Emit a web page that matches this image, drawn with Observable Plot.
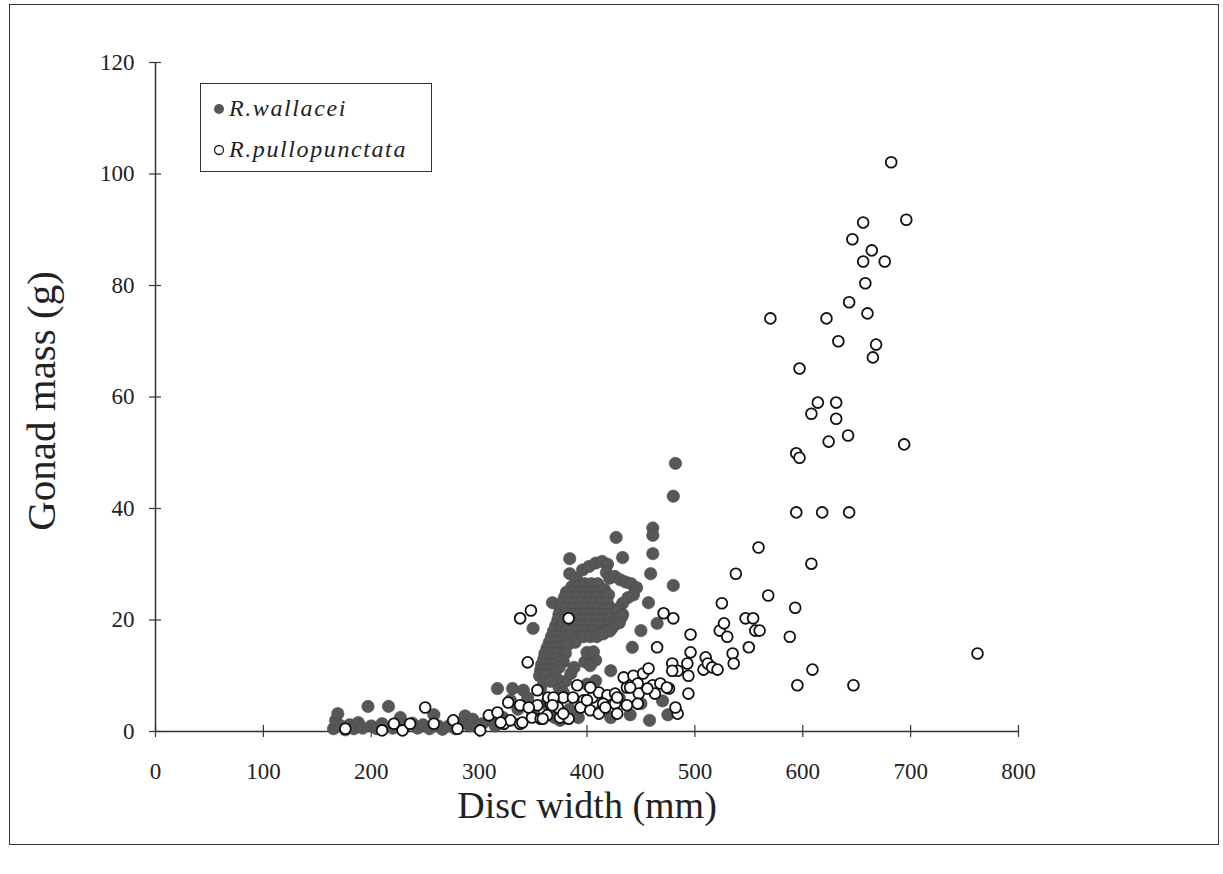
<!DOCTYPE html>
<html>
<head>
<meta charset="utf-8">
<script src="https://cdn.jsdelivr.net/npm/d3@7"></script>
<script src="https://cdn.jsdelivr.net/npm/@observablehq/plot@0.6"></script>
<style>
  html, body { margin: 0; padding: 0; background: #fff; }
  #wrap { position: relative; width: 1223px; height: 874px; overflow: hidden; }
  #frame { position: absolute; left: 9px; top: 4px; width: 1208px; height: 839px; border: 1.8px solid #333; pointer-events: none; }
  #legend { position: absolute; left: 200px; top: 83px; width: 230px; height: 87px; border: 1.3px solid #333; background: #fff;
            font-family: "Liberation Serif", "Times New Roman", serif; font-style: italic; font-size: 24px; color: #222; letter-spacing: 1.6px; }
  #legend .row { position: absolute; left: 12px; display: flex; align-items: center; white-space: nowrap; }
  #legend svg { margin-right: 4px; }
  #chart { position: absolute; left: 0; top: 0; }
</style>
</head>
<body>
<div id="wrap">
  <div id="chart"></div>
  <div id="frame"></div>
  <div id="legend"></div>
</div>
<script>
const xTicks = [0, 100, 200, 300, 400, 500, 600, 700, 800];
const yTicks = [0, 20, 40, 60, 80, 100, 120];
const seriesNames = ["R.wallacei", "R.pullopunctata"];

// R. wallacei (filled)
const wallacei = [
  [165,0.5],[167,2.0],[169,3.2],[172,1.0],[176,0.3],[180,1.2],[184,0.5],[188,1.6],[192,0.6],[197,4.5],
  [200,1.0],[205,0.5],[210,1.4],[216,4.5],[220,0.6],[227,2.5],[232,1.0],[238,1.5],[243,0.6],[248,1.2],
  [254,0.5],[258,3.0],[262,1.0],[266,0.4],[272,1.0],[278,0.5],[284,1.6],[287,2.8],[291,1.0],[294,2.2],
  [298,0.8],[303,1.4],[310,2.0],[315,1.0],[322,2.5],[317,7.7],[331,7.7],[341,7.4],[329,5.6],[336,4.0],
  [345,6.0],[350,3.5],[357,7.7],[362,5.0],[370,2.5],[376,7.5],[380,9.0],[385,10.4],[388,11.5],[375,2.0],
  [384,4.0],[392,2.5],[400,8.5],[408,9.1],[414,4.0],[422,10.9],[422,2.5],[430,6.0],[440,3.0],[450,5.0],
  [458,2.0],[470,5.5],[475,3.0],[374,8.0],[378,7.0],
  [350,18.5],[368,23.1],[384,31.0],[384,28.3],[427,34.8],[433,31.2],[461,31.9],[461,36.5],[461,35.2],
  [459,28.3],[480,26.2],[457,23.1],[465,19.4],[450,18.1],[442,15.1],[482,48.1],[480,42.2],
  [390,27.5],[396,29.0],[402,29.6],[408,30.2],[414,30.5],[419,30.0],[418,28.5],[421,27.5],[426,27.8],
  [431,27.2],[436,26.8],[441,26.5],[446,25.8],[443,24.5],[438,24.0],[433,23.0],
  [386,26.0],[392,26.0],[398,26.5],[404,26.5],[410,26.5],
  [381,25.0],[387,25.0],[393,25.0],[399,25.0],[405,25.0],[411,25.0],[416,25.5],
  [379,24.0],[385,24.0],[391,24.0],[397,24.0],[403,24.0],[409,24.0],[415,24.0],[420,24.5],
  [377,23.0],[383,23.0],[389,23.0],[395,23.0],[401,23.0],[407,23.0],[413,23.0],[419,23.0],
  [375,22.0],[381,22.0],[387,22.0],[393,22.0],[399,22.0],[405,22.0],[411,22.0],[417,22.0],[423,22.0],[429,22.0],
  [374,21.0],[380,21.0],[386,21.0],[392,21.0],[398,21.0],[404,21.0],[410,21.0],[416,21.0],[422,21.0],[428,21.5],[433,21.0],
  [373,20.0],[379,20.0],[385,20.0],[391,20.0],[397,20.0],[403,20.0],[409,20.0],[415,20.0],[421,20.0],[427,20.0],[432,20.5],
  [371,19.0],[377,19.0],[383,19.0],[389,19.0],[395,19.0],[401,19.0],[407,19.0],[413,19.0],[419,19.0],[425,19.0],[430,19.5],
  [369,18.0],[375,18.0],[381,18.0],[387,18.0],[393,18.0],[399,18.0],[405,18.0],[411,17.8],[417,18.0],[423,18.5],
  [367,17.0],[373,17.0],[379,17.0],[385,17.0],[391,16.8],[397,17.0],[403,17.0],[409,17.0],[415,17.5],[421,18.0],
  [365,16.0],[371,16.0],[377,16.0],[383,16.0],[389,16.0],
  [363,15.0],[369,15.0],[375,15.0],[382,15.5],
  [361,14.0],[367,14.0],[373,14.0],[380,14.0],
  [360,13.0],[366,13.0],[371,13.0],[378,12.5],
  [358,12.0],[364,12.0],[369,12.0],[374,11.5],
  [357,11.0],[363,11.0],[368,11.0],[370,10.5],
  [356,10.0],[362,10.0],[372,9.5],[360,9.0],[366,9.0],
  [398,12.5],[403,13.5],[408,12.8],[403,11.8],[400,14.2],[406,14.3]
];

// R. pullopunctata (open)
const pullopunctata = [
  [176,0.5],[210,0.2],[221,1.4],[229,0.2],[236,1.4],[250,4.3],[258,1.4],[276,2.0],[280,0.5],[301,0.2],
  [309,2.9],[317,3.4],[323,1.4],[327,5.2],[329,2.0],[338,4.7],[338,1.4],[320,1.6],[340,1.6],[345,12.4],
  [338,20.3],[348,21.7],[349,2.5],[357,2.3],[363,2.9],[354,4.7],[366,5.0],[373,4.3],[375,2.5],[383,2.3],
  [364,6.1],[378,6.1],[354,7.4],[391,8.3],[387,6.1],[397,5.6],[405,6.1],[394,4.3],[403,3.8],[411,7.0],
  [419,6.5],[415,5.0],[426,6.8],[426,5.0],[428,3.2],[437,7.9],[434,9.7],[443,10.0],[447,8.6],[452,10.4],
  [457,11.3],[448,6.8],[447,5.0],[437,4.7],[461,8.3],[468,8.6],[463,6.8],[476,7.7],[484,3.2],[482,4.3],
  [383,20.3],[471,21.2],[480,20.3],[465,15.1],[479,12.2],[484,10.9],[496,17.4],[496,14.2],[493,12.2],
  [494,10.0],[494,6.8],[479,10.9],[411,3.2],[346,4.3],[359,2.3],[378,3.2],[369,6.1],[368,4.7],[400,5.6],
  [403,7.9],[417,4.3],[428,6.1],[440,7.9],[456,7.7],[474,7.9],
  [508,11.1],[510,13.3],[512,12.2],[516,11.5],[521,11.1],[523,18.1],[525,23.0],[527,19.4],[530,17.0],
  [535,14.0],[536,12.2],[538,28.3],[547,20.3],[550,15.1],[554,20.3],[556,18.1],[559,33.0],[560,18.1],
  [568,24.4],[588,17.0],[593,22.2],[595,8.3],[608,30.1],[609,11.1],[647,8.3],[762,14.0],
  [682,102.1],[696,91.8],[656,91.3],[646,88.3],[664,86.3],[656,84.3],[676,84.3],[658,80.4],[643,77.0],
  [570,74.1],[622,74.1],[660,75.0],[633,70.0],[668,69.4],[665,67.1],[597,65.1],[614,59.0],[631,59.0],
  [608,57.0],[631,56.1],[642,53.1],[624,52.0],[694,51.5],[594,49.9],[597,49.1],[594,39.3],[618,39.3],
  [643,39.3]
];

const FONT = '"Liberation Serif", "Times New Roman", serif';
const AX = "#333";

const chart = Plot.plot({
  width: 1223,
  height: 874,
  marginLeft: 155,
  marginRight: 205,
  marginTop: 62,
  marginBottom: 143,
  x: {domain: [0, 800]},
  y: {domain: [0, 120]},
  style: {fontFamily: FONT, fontSize: "23px", background: "transparent", color: "#222"},
  marks: [
    Plot.ruleY([0], {x1: 0, x2: 800, stroke: AX, strokeWidth: 1.5}),
    Plot.ruleX([0], {y1: 0, y2: 120, stroke: AX, strokeWidth: 1.5}),
    Plot.ruleX(xTicks, {x: d => d, y1: 0, y2: 0, insetTop: -6, insetBottom: -6, stroke: AX, strokeWidth: 1.2}),
    Plot.ruleY(yTicks, {y: d => d, x1: 0, x2: 0, insetLeft: -6, insetRight: -6, stroke: AX, strokeWidth: 1.2}),
    Plot.axisX(xTicks, {tickSize: 0, tickPadding: 31, fontSize: 23, label: null, fill: "#222"}),
    Plot.axisY(yTicks, {tickSize: 0, tickPadding: 21, fontSize: 23, label: null, fill: "#222"}),
    Plot.text(["Disc width (mm)"], {frameAnchor: "bottom", dy: 74, fontSize: 38, fill: "#222", lineAnchor: "middle", textAnchor: "middle"}),
    Plot.text(["Gonad mass (g)"], {frameAnchor: "left", dx: -114, dy: 4, rotate: -90, fontSize: 41, fill: "#222", lineAnchor: "middle", textAnchor: "middle"}),
    Plot.dot(wallacei, {x: d => d[0], y: d => d[1], r: 6.2, fill: "#575757", stroke: "#4a4a4a", strokeWidth: 0.6}),
    Plot.dot(pullopunctata, {x: d => d[0], y: d => d[1], r: 5.4, fill: "#fff", stroke: "#111", strokeWidth: 1.8})
  ]
});
document.getElementById("chart").appendChild(chart);

const legend = document.getElementById("legend");
legend.innerHTML = `
  <div class="row" style="top:11px"><svg width="12" height="12"><circle cx="6" cy="6" r="5" fill="#575757"/></svg>${seriesNames[0]}</div>
  <div class="row" style="top:52px"><svg width="12" height="12"><circle cx="6" cy="6" r="4.5" fill="#fff" stroke="#222" stroke-width="1.3"/></svg>${seriesNames[1]}</div>`;
</script>
</body>
</html>
